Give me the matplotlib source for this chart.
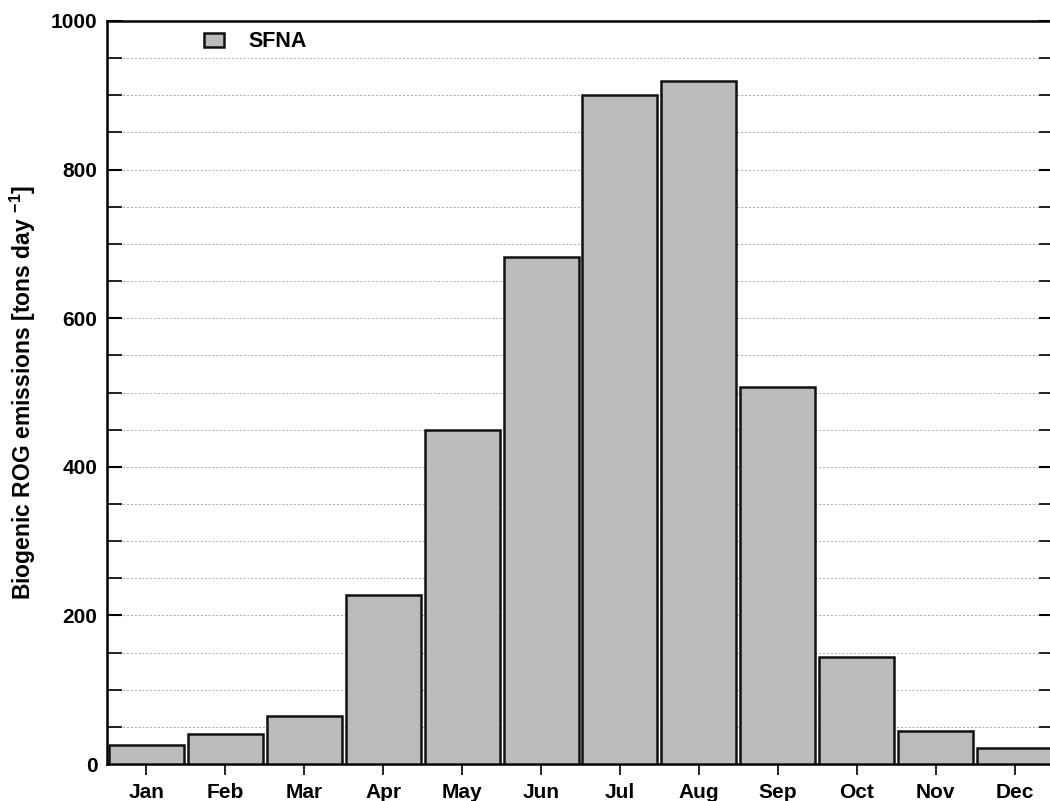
import numpy as np
import matplotlib
matplotlib.use("Agg")
from matplotlib import pyplot as plt
from matplotlib.ticker import MultipleLocator

months = ["Jan", "Feb", "Mar", "Apr", "May", "Jun", "Jul", "Aug", "Sep", "Oct", "Nov", "Dec"]
sfna = [25, 40, 65, 228, 449, 682, 900, 919, 507, 144, 44, 21]

plt.rcParams['font.family'] = ['Liberation Sans', 'DejaVu Sans']
plt.rcParams['font.weight'] = 'bold'
plt.rcParams['mathtext.fontset'] = 'custom'
plt.rcParams['mathtext.rm'] = 'Liberation Sans:bold'
plt.rcParams['mathtext.bf'] = 'Liberation Sans:bold'

fig = plt.figure(figsize=(10.5, 8.01), dpi=100)
# axes runs slightly past the right edge, as in the cropped original
ax = fig.add_axes([107 / 1050, 1 - 764 / 801, (1054 - 107) / 1050, (764 - 21) / 801])

x = np.arange(1, len(months) + 1)
ax.bar(x, sfna, width=0.95, color='#bbbbbb', edgecolor='#111111', linewidth=1.8,
       label='SFNA', zorder=3)

ax.set_xlim(0.5, 12.5)
ax.set_ylim(0, 1000)
ax.set_xticks(x)
ax.set_xticklabels(months)
ax.yaxis.set_major_locator(MultipleLocator(200))
ax.yaxis.set_minor_locator(MultipleLocator(50))

ax.grid(axis='y', which='both', linestyle=(0, (2, 2)), color='#aaaaaa', linewidth=0.7, zorder=0)
ax.tick_params(axis='y', which='major', direction='in', length=11, width=1.5,
               labelsize=15, right=True, pad=7)
ax.tick_params(axis='y', which='minor', direction='in', length=11, width=1.2, right=True)
ax.tick_params(axis='x', which='major', direction='out', length=8, width=1.2,
               labelsize=15, pad=6)
for s in ax.spines.values():
    s.set_linewidth(1.8)

ax.set_ylabel('Biogenic ROG emissions [tons day $^{\\mathrm{-1}}$]', fontsize=16.5,
              fontweight='bold', labelpad=9)

leg = ax.legend(loc='upper left', bbox_to_anchor=(0.082, 1.012), frameon=False,
                fontsize=15.5, handlelength=0.95, handleheight=0.6, handletextpad=1.1)
for t in leg.get_texts():
    t.set_fontweight('bold')

fig.savefig('out.png', dpi=100)
